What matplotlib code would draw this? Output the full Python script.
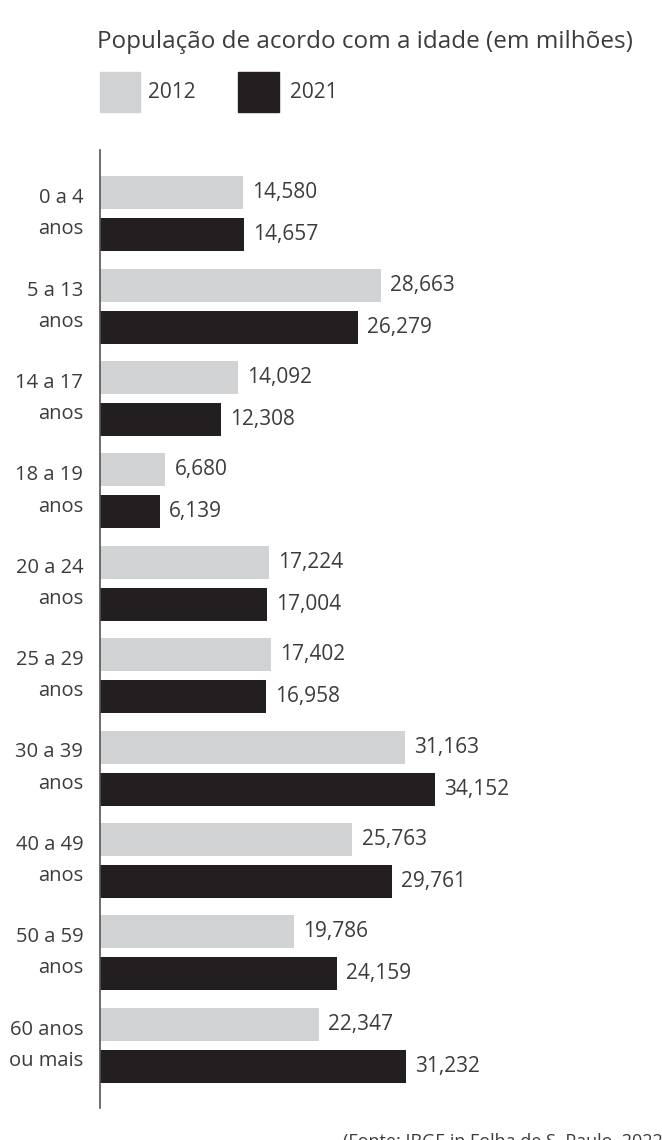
import numpy as np
import matplotlib.pyplot as plt

plt.rcParams['font.family'] = ['Open Sans', 'DejaVu Sans']

faixas = ["0 a 4\nanos", "5 a 13\nanos", "14 a 17\nanos", "18 a 19\nanos",
          "20 a 24\nanos", "25 a 29\nanos", "30 a 39\nanos", "40 a 49\nanos",
          "50 a 59\nanos", "60 anos\nou mais"]
pop_2012 = [14.580, 28.663, 14.092, 6.680, 17.224, 17.402, 31.163, 25.763, 19.786, 22.347]
pop_2021 = [14.657, 26.279, 12.308, 6.139, 17.004, 16.958, 34.152, 29.761, 24.159, 31.232]
rot_2012 = ["14,580", "28,663", "14,092", "6,680", "17,224", "17,402", "31,163", "25,763", "19,786", "22,347"]
rot_2021 = ["14,657", "26,279", "12,308", "6,139", "17,004", "16,958", "34,152", "29,761", "24,159", "31,232"]

c_claro = "#d1d2d4"
c_escuro = "#231f20"
c_texto = "#3c3c3c"

W, H = 662, 1140
fig = plt.figure(figsize=(W/100, H/100), dpi=100)
ax = fig.add_axes([100/W, 1-1108/H, 562/W, 958/H])

y = np.arange(len(faixas))
h = 33/92.3
d = 21/92.3
ax.barh(y - d, pop_2012, height=h, color=c_claro)
ax.barh(y + d, pop_2021, height=h, color=c_escuro)

for yi, v, t in zip(y - d, pop_2012, rot_2012):
    ax.annotate(t, (v, yi), xytext=(6.5, 0), textcoords="offset points",
                va="center", ha="left", fontsize=15, color=c_texto)
for yi, v, t in zip(y + d, pop_2021, rot_2021):
    ax.annotate(t, (v, yi), xytext=(6.5, 0), textcoords="offset points",
                va="center", ha="left", fontsize=15, color=c_texto)

ax.set_xlim(0, 562/9.8)
ax.set_ylim(9.68, -0.69)
ax.set_yticks(y)
ax.set_yticklabels(faixas, fontsize=14.5, color=c_texto, linespacing=1.75,
                   ha="right", va="center")
ax.tick_params(axis="y", length=0, pad=12)
ax.set_xticks([])
for s in ["top", "right", "bottom"]:
    ax.spines[s].set_visible(False)
ax.spines["left"].set_color("#555555")
ax.spines["left"].set_linewidth(1.2)

# titulo e legenda
fig.text(97/W, 1-42/H, "População de acordo com a idade (em milhões)",
         fontsize=17.5, color=c_texto, va="center", ha="left")
lax = fig.add_axes([0, 0, 1, 1])
lax.set_xlim(0, W)
lax.set_ylim(H, 0)
lax.axis("off")
lax.add_patch(plt.Rectangle((100, 72), 40, 40, color=c_claro))
lax.add_patch(plt.Rectangle((238, 72), 41, 40, color=c_escuro))
lax.text(148, 92, "2012", fontsize=15, color=c_texto, va="center", ha="left")
lax.text(290, 92, "2021", fontsize=15, color=c_texto, va="center", ha="left")

fig.text(343/W, 1-1133/H, "(Fonte: IBGE in Folha de S. Paulo, 2022)",
         fontsize=13, color=c_texto, va="top", ha="left")

fig.savefig("out.png", dpi=100)
